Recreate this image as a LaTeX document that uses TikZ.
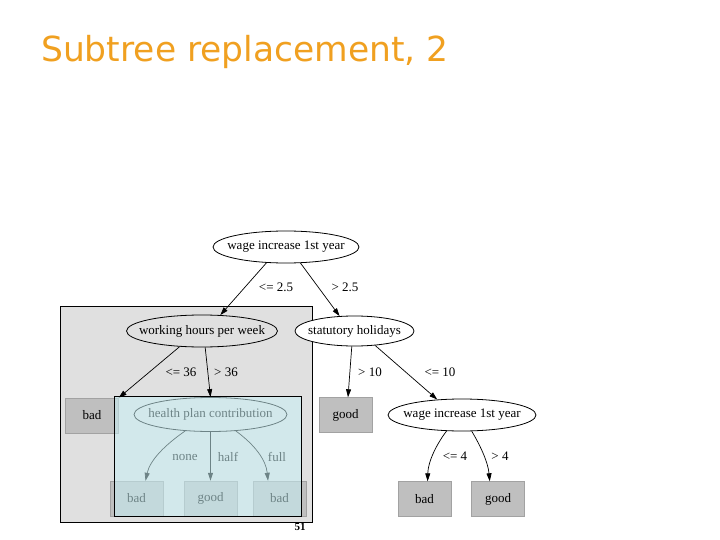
\documentclass[tikz,border=0pt]{standalone}
\usepackage{fontspec}
\setmainfont{Liberation Serif}
\newfontfamily\titlefont{DejaVu Sans}
\usetikzlibrary{shapes.geometric,arrows.meta}
\definecolor{titleor}{RGB}{240,160,32}
\definecolor{leafgray}{RGB}{191,191,191}
\definecolor{regiongray}{RGB}{224,224,224}
\definecolor{overcyan}{RGB}{200,240,245}
\begin{document}
\begin{tikzpicture}[x=1pt,y=-1pt,
  oval/.style args={#1/#2}{ellipse, draw, fill=white, inner sep=0pt, minimum width=#1, minimum height=#2,
    font=\fontsize{13}{15}\selectfont, line width=0.8pt},
  leaf/.style={rectangle, draw=leafgray!85!black, line width=0.4pt, fill=leafgray, inner sep=0pt,
    minimum width=53pt, minimum height=35pt, font=\fontsize{13}{15}\selectfont},
  lbl/.style={inner sep=0pt, font=\fontsize{13}{15}\selectfont},
  arr/.style={-{Triangle[length=8pt,width=5pt]}, line width=0.7pt}]
\useasboundingbox (0,0) rectangle (720,540);
% title
\node[anchor=base west, inner sep=0pt, text=titleor, font=\titlefont\fontsize{34.5}{40}\selectfont] (title) at (41,62) {Subtree replacement, 2};
% gray region
\draw[fill=regiongray, line width=0.9pt] (60,306) rectangle (312,522);
% nodes
\node[oval=146pt/32pt] (root) at (286,247) {\makebox[0pt]{wage increase 1st year}};
\node[oval=151pt/32pt, fill=regiongray] (wh) at (202,331) {\makebox[0pt]{working hours per week}};
\node[oval=119pt/30pt] (stat) at (354.5,331) {\makebox[0pt]{statutory holidays}};
\node[oval=153pt/34pt, fill=regiongray] (hp) at (210.5,414.5) {\makebox[0pt]{health plan contribution}};
\node[oval=148pt/32pt] (wi2) at (462,415) {\makebox[0pt]{wage increase 1st year}};
\node[leaf] (b0) at (92,415.5) {bad};
\node[leaf] (g1) at (345.5,415) {good};
\node[leaf] (l1) at (136.5,498.5) {bad};
\node[leaf] (l2) at (210.5,498.5) {good};
\node[leaf] (l3) at (279.5,498.5) {bad};
\node[leaf] (b2) at (424.5,499) {bad};
\node[leaf] (g2) at (498,499) {good};
% edge labels
\node[lbl] (e1) at (276,287) {<= 2.5};
\node[lbl] (e2) at (345,287) {> 2.5};
\node[lbl] (e3) at (181,372) {<= 36};
\node[lbl] (e4) at (226,372) {> 36};
\node[lbl] (e5) at (370,372) {> 10};
\node[lbl] (e6) at (440,372) {<= 10};
\node[lbl] (e7) at (185,457) {none};
\node[lbl] (e8) at (228,457) {half};
\node[lbl] (e9) at (277,457) {full};
\node[lbl] (e10) at (455,456) {<= 4};
\node[lbl] (e11) at (500,456) {> 4};
% connectors
\draw[arr] (root.219) -- (wh.41);
\draw[arr] (root.312) -- (stat.135);
\draw[arr] (wh.215) -- (b0.north east);
\draw[arr] (wh.281) -- (hp.north);
\draw[arr] (stat.260) -- (g1.82);
\draw[arr] (stat.325) -- (wi2.148);
\draw[arr] (hp.213) .. controls (165,445) and (150,460) .. (l1.63);
\draw[arr] (hp.south) -- (l2.north);
\draw[arr] (hp.327) .. controls (255,445) and (266,460) .. (l3.123);
\draw[arr] (wi2.226) .. controls (436,445) and (428,462) .. (b2.80);
\draw[arr] (wi2.301) .. controls (480,445) and (488,462) .. (g2.115);
% cyan overlay
\draw[fill=overcyan, fill opacity=0.55, line width=0.9pt] (114,396) rectangle (301,516);
% page number
\node[inner sep=0pt, font=\bfseries\fontsize{11}{13}\selectfont] (pg) at (300,527) {51};
\end{tikzpicture}
\end{document}
